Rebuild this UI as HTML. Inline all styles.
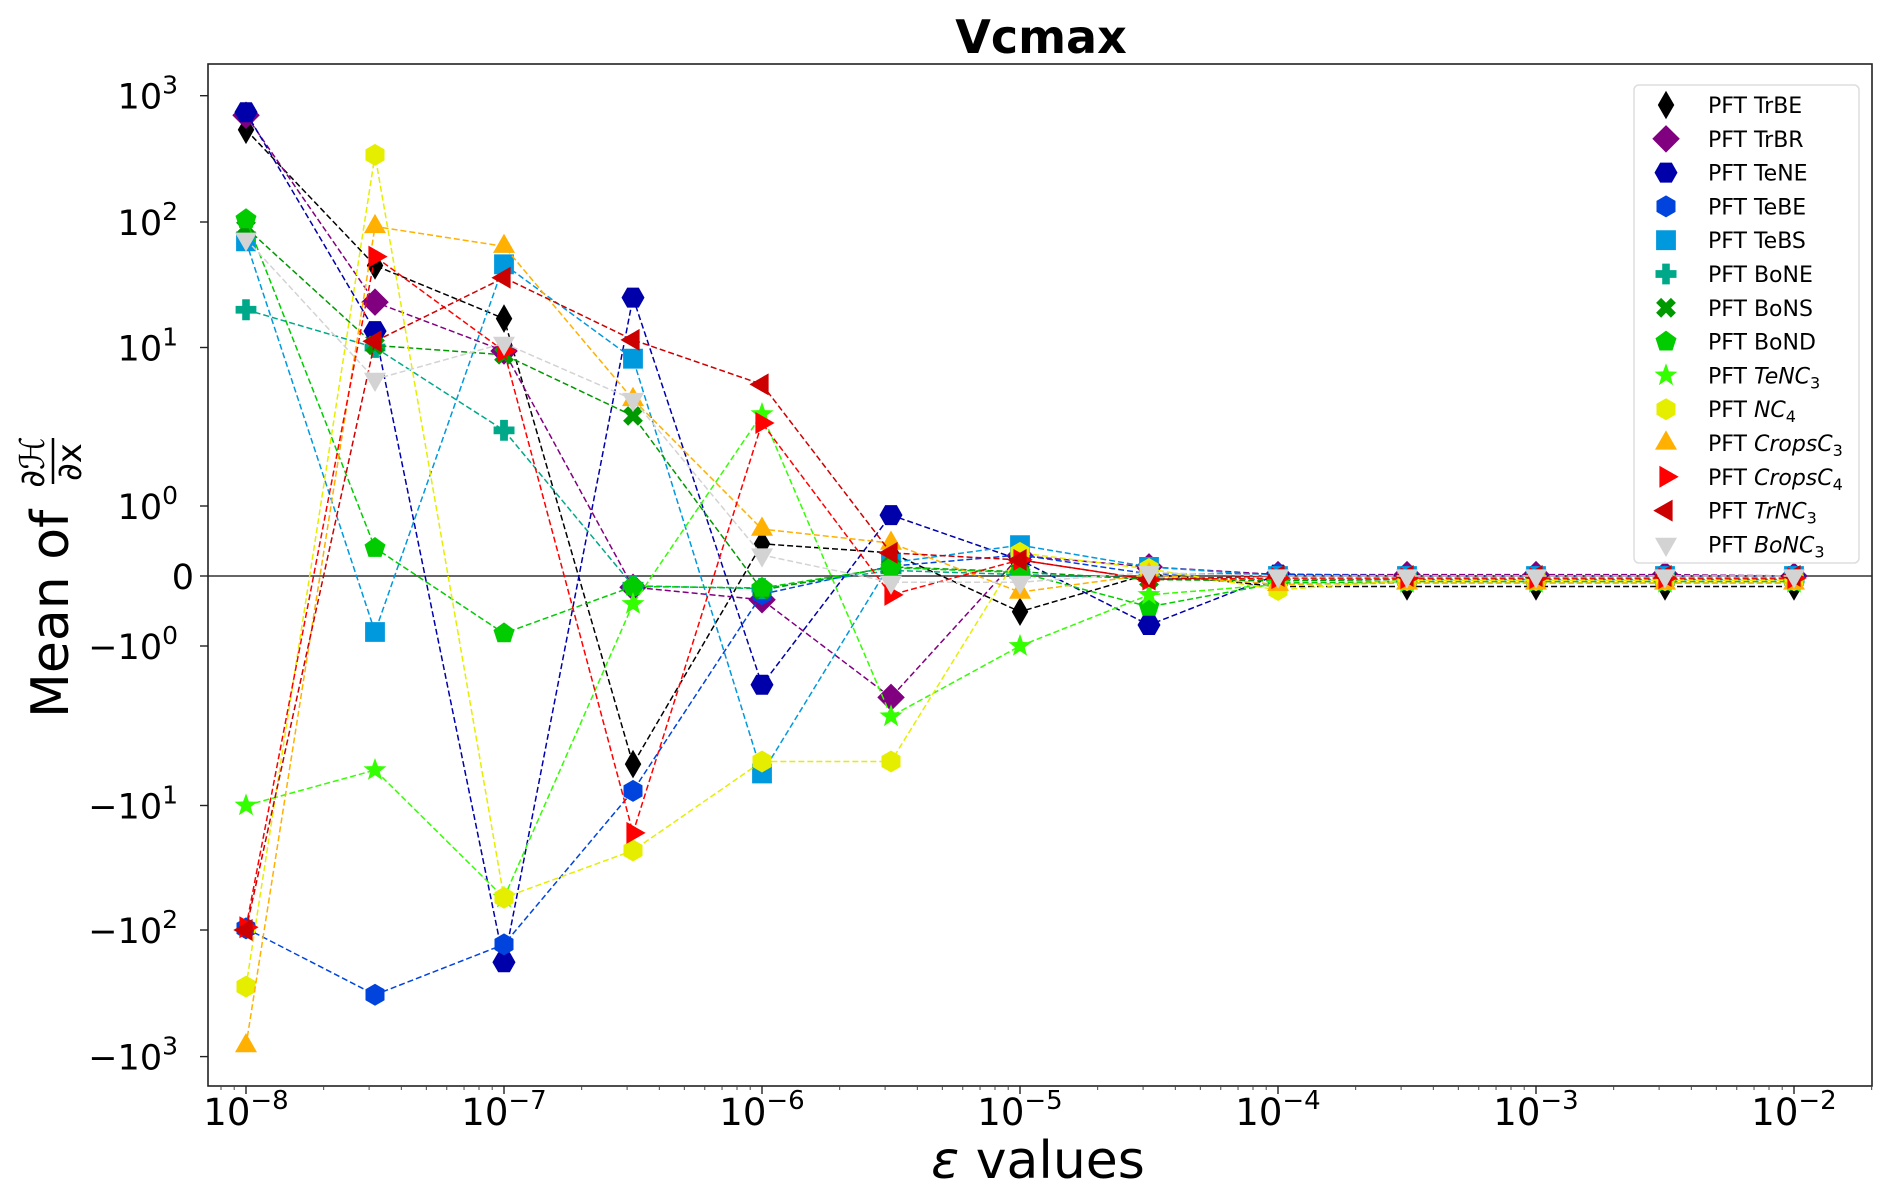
<!DOCTYPE html>
<html><head><meta charset="utf-8"><title>Vcmax</title>
<style>
html,body{margin:0;padding:0;background:#fff;}
svg{display:block;font-family:"DejaVu Sans","Liberation Sans",sans-serif;}
</style></head>
<body>
<svg id="chart" width="1892" height="1200" viewBox="0 0 1892 1200" xmlns="http://www.w3.org/2000/svg">
<rect x="0" y="0" width="1892" height="1200" fill="#fff"/>
<text x="1041" y="53" font-size="46" font-weight="bold" text-anchor="middle">Vcmax</text>
<g id="plot"></g>
<text x="1038" y="1178" font-size="52" text-anchor="middle"><tspan font-style="italic">ε</tspan> values</text>
<g transform="translate(68,718) rotate(-90)">
  <text x="0" y="0" font-size="52">Mean of</text>
  <text x="256" y="-24" font-size="34" text-anchor="middle" font-style="italic">∂ℋ</text>
  <line x1="234" y1="-15" x2="280" y2="-15" stroke="#000" stroke-width="2.5"/>
  <text x="256" y="13" font-size="34" text-anchor="middle">∂x</text>
</g>
<g id="legend"></g>
</svg>
<script>
// ---- data ----
const xExponents = [-8,-7.5,-7,-6.5,-6,-5.5,-5,-4.5,-4,-3.5,-3,-2.5,-2];
const seriesNames = ["TrBE","TrBR","TeNE","TeBE","TeBS","BoNE","BoNS","BoND","TeNC3","NC4","CropsC3","CropsC4","TrNC3","BoNC3"];
const vTrBE   = [537,45,17,-5.5,0.46,0.33,-0.51,0.03,-0.15,-0.15,-0.15,-0.15,-0.15];
const vTrBR   = [700,23,9.5,-0.16,-0.34,-2.1,0.29,0.13,0.02,0.02,0.02,0.02,0.0];
const vTeNE   = [740,13.5,-180,25,-1.75,0.87,0.23,-0.7,0.02,0.0,0.0,0.0,0.0];
const vTeBE   = [-97,-325,-130,-8.1,-0.26,0.14,0.3,0.03,0.03,0.0,0.0,0.0,0.0];
const vTeBS   = [70,-0.8,46,8.5,-6.3,0.19,0.44,0.13,0.0,0.0,0.0,0.0,0.0];
const vBoNE   = [20,10,3,-0.14,-0.18,0.08,0.02,-0.03,-0.05,-0.05,-0.05,-0.05,-0.05];
const vBoNS   = [90,10.4,9,3.7,-0.2,0.13,0.06,-0.05,-0.07,-0.05,-0.05,-0.05,-0.05];
const vBoND   = [105,0.4,-0.82,-0.15,-0.17,0.12,0.05,-0.44,-0.1,-0.08,-0.08,-0.08,-0.08];
const vTeNC3  = [-10,-6,-55,-0.4,3.8,-2.76,-1.0,-0.27,-0.12,-0.1,-0.1,-0.1,-0.1];
const vNC4    = [-280,340,-55,-23,-5.3,-5.3,0.33,0.1,-0.2,-0.06,-0.06,-0.06,-0.06];
const vCropsC3= [-820,92,64,4.7,0.67,0.47,-0.23,0.02,-0.12,-0.1,-0.1,-0.1,-0.1];
const vCropsC4= [-95,53,9.5,-16.6,3.34,-0.27,0.23,-0.05,-0.03,-0.03,-0.03,-0.03,-0.03];
const vTrNC3  = [-100,11.2,36,11.5,5.85,0.33,0.23,-0.05,0.0,0.0,0.0,0.0,0.0];
const vBoNC3  = [73,6.3,10.8,4.7,0.3,-0.09,-0.09,0.05,0.0,0.0,0.0,0.0,0.0];
const seriesValues = [vTrBE,vTrBR,vTeNE,vTeBE,vTeBS,vBoNE,vBoNS,vBoND,vTeNC3,vNC4,vCropsC3,vCropsC4,vTrNC3,vBoNC3];
const xTickExponents = [-8,-7,-6,-5,-4,-3,-2];
const yTickLabels = [["10","3"],["10","2"],["10","1"],["10","0"],["0",""],["−10","0"],["−10","1"],["−10","2"],["−10","3"]];
const yTickValues = [1000,100,10,1,0,-1,-10,-100,-1000];

// ---- styles ----
const colors = ["#000000","#800080","#0000aa","#0044dd","#0099dd","#00a88a","#009900","#00cc00","#33ff00","#e6ee00","#ffb000","#ff0000","#cc0000","#d3d3d3"];
const markers = ["d","D","H","h","s","P","X","p","*","h","^",">","<","v"];
const legendLabels = [["TrBE",""],["TrBR",""],["TeNE",""],["TeBE",""],["TeBS",""],["BoNE",""],["BoNS",""],["BoND",""],["TeNC","3"],["NC","4"],["CropsC","3"],["CropsC","4"],["TrNC","3"],["BoNC","3"]];
const italicLabel = [false,false,false,false,false,false,false,false,true,true,true,true,true,true];

const NS = "http://www.w3.org/2000/svg";
const L = 208, R = 1872, T = 64, B = 1086;
const X0 = 246, DEC = 258;
function xScale(e){ return X0 + (e + 8) * DEC; }
const posY = [506, 347.5, 222, 95.7];
const negY = [646, 805.5, 930, 1056.6];
function yScale(v){
  const a = Math.abs(v);
  if (a <= 1) return 576 - v * 70;
  const lg = Math.log10(a);
  const arr = v > 0 ? posY : negY;
  let k = Math.min(Math.floor(lg), 2);
  const f = lg - k;
  return arr[k] + (arr[k+1] - arr[k]) * f;
}
function el(tag, attrs, parent){
  const e = document.createElementNS(NS, tag);
  for (const k in attrs) e.setAttribute(k, attrs[k]);
  parent.appendChild(e);
  return e;
}
function markerPath(type, cx, cy, s){
  let pts = [];
  const poly = (n, r, rot) => { const p=[]; for(let i=0;i<n;i++){const a=rot+i*2*Math.PI/n; p.push([cx+r*Math.cos(a), cy+r*Math.sin(a)]);} return p; };
  switch(type){
    case "d": pts=[[cx,cy-s*1.3],[cx+s*0.75,cy],[cx,cy+s*1.3],[cx-s*0.75,cy]]; break;
    case "D": pts=[[cx,cy-s*1.25],[cx+s*1.25,cy],[cx,cy+s*1.25],[cx-s*1.25,cy]]; break;
    case "H": pts=poly(6,s*1.05,0); break;
    case "h": pts=poly(6,s*1.0,-Math.PI/2); break;
    case "s": pts=[[cx-s*0.9,cy-s*0.9],[cx+s*0.9,cy-s*0.9],[cx+s*0.9,cy+s*0.9],[cx-s*0.9,cy+s*0.9]]; break;
    case "p": pts=poly(5,s*1.0,-Math.PI/2); break;
    case "^": pts=[[cx,cy-s*1.15],[cx+s*1.0,cy+s*0.6],[cx-s*1.0,cy+s*0.6]]; break;
    case "v": pts=[[cx,cy+s*1.15],[cx+s*1.0,cy-s*0.6],[cx-s*1.0,cy-s*0.6]]; break;
    case ">": pts=[[cx+s*1.15,cy],[cx-s*0.6,cy-s*1.0],[cx-s*0.6,cy+s*1.0]]; break;
    case "<": pts=[[cx-s*1.15,cy],[cx+s*0.6,cy-s*1.0],[cx+s*0.6,cy+s*1.0]]; break;
    case "*": { for(let i=0;i<10;i++){const a=-Math.PI/2+i*Math.PI/5; const r=i%2?s*0.45:s*1.1; pts.push([cx+r*Math.cos(a),cy+r*Math.sin(a)]);} break; }
    case "P": { const w=s*0.35, r=s*0.95; pts=[[cx-w,cy-r],[cx+w,cy-r],[cx+w,cy-w],[cx+r,cy-w],[cx+r,cy+w],[cx+w,cy+w],[cx+w,cy+r],[cx-w,cy+r],[cx-w,cy+w],[cx-r,cy+w],[cx-r,cy-w],[cx-w,cy-w]]; break; }
    case "X": { const w=s*0.32, r=s*0.95; const base=[[-w,-r],[w,-r],[w,-w],[r,-w],[r,w],[w,w],[w,r],[-w,r],[-w,w],[-r,w],[-r,-w],[-w,-w]]; const c=Math.SQRT1_2; pts=base.map(([x,y])=>[cx+(x-y)*c, cy+(x+y)*c]); break; }
  }
  return "M" + pts.map(p=>p[0].toFixed(1)+","+p[1].toFixed(1)).join("L") + "Z";
}

const plot = document.getElementById("plot");
const zl = el("line",{x1:L,y1:yScale(0),x2:R,y2:yScale(0),stroke:"#333","stroke-width":1.6},plot);



seriesValues.forEach((vals, si) => {
  const g = el("g",{},plot);
  
  
  const d = vals.map((v,i)=>(i?"L":"M")+xScale(xExponents[i]).toFixed(1)+","+yScale(v).toFixed(1)).join("");
  const ln = el("path",{d:d,fill:"none",stroke:colors[si],"stroke-width":1.5,"stroke-dasharray":"6,3"},g);
  
  
  vals.forEach((v,i)=>{
    const m = el("path",{d:markerPath(markers[si], xScale(xExponents[i]), yScale(v), 11), fill:colors[si]},g);
    
    
  });
});

const fr = el("rect",{x:L,y:T,width:R-L,height:B-T,fill:"none",stroke:"#222","stroke-width":1.6},plot);



xTickExponents.forEach(e=>{
  const x = xScale(e);
  const t = el("line",{x1:x,y1:B,x2:x,y2:B+8,stroke:"#222","stroke-width":1.4},plot);
  
  
  const tx = el("text",{x:x,y:B+39,"font-size":37,"text-anchor":"middle"},plot);
  
  
  tx.textContent = "10";
  const sup = el("tspan",{dy:-16,"font-size":26},tx);
  sup.textContent = "−" + Math.abs(e);
});
for (let e=-9;e<=-2;e++){
  for (let k=2;k<=9;k++){
    const x = xScale(e + Math.log10(k));
    if (x < L || x > R) continue;
    const t = el("line",{x1:x,y1:B,x2:x,y2:B+4,stroke:"#444","stroke-width":1},plot);
    
    
  }
}
yTickValues.forEach((v,i)=>{
  const y = yScale(v);
  const t = el("line",{x1:L-8,y1:y,x2:L,y2:y,stroke:"#222","stroke-width":1.4},plot);
  
  
  const lab = yTickLabels[i];
  const tx = el("text",{x:lab[1]?178:194,y:y+13,"font-size":35,"text-anchor":"end"},plot);
  
  
  tx.textContent = lab[0];
  if (lab[1]) { const s = el("tspan",{dy:-15,"font-size":25},tx); s.textContent = lab[1]; }
});

const lg = document.getElementById("legend");
const box = el("rect",{x:1634,y:85,width:225,height:478,rx:5,fill:"#fff","fill-opacity":0.85,stroke:"#ddd","stroke-width":1.5},lg);


seriesNames.forEach((n,i)=>{
  const y = 105 + i*33.8;
  const g = el("g",{},lg);
  
  
  el("path",{d:markerPath(markers[i],1666,y,11),fill:colors[i]},g);
  const tx = el("text",{x:1708,y:y+8,"font-size":22},g);
  tx.textContent = "PFT ";
  const a = el("tspan",{},tx);
  if (italicLabel[i]) a.setAttribute("font-style","italic");
  a.textContent = legendLabels[i][0];
  if (legendLabels[i][1]) { const s = el("tspan",{dy:5,"font-size":16},tx); s.textContent = legendLabels[i][1]; }
});
</script>
</body></html>
